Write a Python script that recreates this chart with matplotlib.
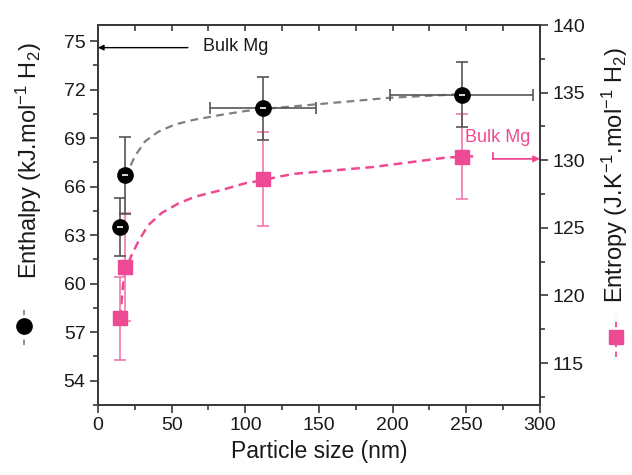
import matplotlib
matplotlib.use("Agg")
import matplotlib.pyplot as plt
from matplotlib.lines import Line2D
import numpy as np

plt.rcParams['font.family'] = ['Liberation Sans', 'DejaVu Sans']
plt.rcParams['mathtext.fontset'] = 'custom'
plt.rcParams['mathtext.rm'] = 'Liberation Sans'
plt.rcParams['mathtext.it'] = 'Liberation Sans:italic'
plt.rcParams['mathtext.default'] = 'regular'

# ---- data ----
size = [15, 18, 112, 247]
size_err = [2, 3, 36, 48.5]
enthalpy = [63.5, 66.7, 70.85, 71.7]
enthalpy_err = [1.8, 2.4, 1.95, 2.0]
entropy = [118.3, 122.1, 128.6, 130.25]
entropy_err = [3.1, 4.0, 3.5, 3.15]

fit_h_x = [18, 20.6, 25.1, 31.9, 40.9, 52.3, 65.8, 84, 100, 111, 124, 149, 198, 237, 250]
fit_h_y = [66.6, 67.0, 67.9, 68.8, 69.4, 69.85, 70.15, 70.45, 70.68, 70.8, 70.9, 71.1, 71.5, 71.68, 71.72]
fit_s_x = [15, 17, 19, 22.9, 27.4, 34.1, 43.2, 54.5, 65.8, 84, 100, 111, 123.5, 133.6, 186.8, 236.7, 257]
fit_s_y = [118.3, 120.8, 122.0, 123.0, 124.0, 125.2, 126.1, 126.8, 127.3, 127.8, 128.3, 128.5, 128.8, 129.0, 129.5, 130.2, 130.3]

bulk_enthalpy = 74.6
bulk_entropy = 130.1

x_ticks = [0, 50, 100, 150, 200, 250, 300]
h_ticks = [54, 57, 60, 63, 66, 69, 72, 75]
s_ticks = [115, 120, 125, 130, 135, 140]

PINK = '#EE4A93'
PINK_ERR = '#F07AAE'
GRAY = '#555555'
SPINE = '#3a3a3a'

fig = plt.figure(figsize=(6.32, 4.75), dpi=100)
ax = fig.add_axes([98/632, 70/475, 442/632, 380/475])
ax2 = ax.twinx()

# ---- entropy (right axis) ----
ax2.plot(fit_s_x, fit_s_y, color=PINK, lw=1.8, dashes=(3.5, 2.2), zorder=2)
ax2.errorbar(size, entropy, yerr=entropy_err, fmt='none', ecolor=PINK_ERR,
             elinewidth=1.2, capsize=4, capthick=1.2, zorder=3)
ax2.plot(size, entropy, ls='none', marker='s', ms=10, color=PINK, mec=PINK, zorder=4)

# ---- enthalpy (left axis) ----
ax.plot(fit_h_x, fit_h_y, color='#808080', lw=1.6, dashes=(3.5, 2.4), zorder=2)
ax.errorbar(size, enthalpy, yerr=enthalpy_err, xerr=size_err, fmt='none', ecolor=GRAY,
            elinewidth=1.2, capsize=4, capthick=1.2, zorder=3)
ax.plot(size, enthalpy, ls='none', marker='o', ms=11, color='black', zorder=4)
ax.plot(size, enthalpy, ls='none', marker='_', ms=5, mew=1.2, color='white', zorder=5)

ax.set_zorder(ax2.get_zorder() + 1)
ax.patch.set_visible(False)

# ---- axes limits / ticks ----
ax.set_xlim(0, 300)
ax.set_ylim(52.5, 76.0)
ax2.set_ylim(111.9, 140)

ax.set_xticks(x_ticks)
ax.set_xticks(np.arange(25, 300, 50), minor=True)
ax.set_yticks(h_ticks)
ax.set_yticks(np.arange(52.5, 76.1, 3), minor=True)
ax2.set_yticks(s_ticks)
ax2.set_yticks(np.arange(112.5, 140, 5), minor=True)

for a in (ax, ax2):
    for s in a.spines.values():
        s.set_color(SPINE)
        s.set_linewidth(1.3)

ax.tick_params(axis='both', which='major', direction='out', length=6, width=1.2,
               color=SPINE, labelsize=14, labelcolor='#1a1a1a', pad=3)
ax.tick_params(axis='both', which='minor', direction='out', length=3.5, width=1.2, color=SPINE)
ax.tick_params(axis='y', right=False, which='both')
ax2.tick_params(axis='y', which='major', direction='out', length=6, width=1.2,
                color=SPINE, labelsize=14, labelcolor='#1a1a1a', pad=3)
ax2.tick_params(axis='y', which='minor', direction='out', length=3.5, width=1.2, color=SPINE)

top = ax.secondary_xaxis('top')
top.set_xticks(np.arange(0, 301, 25))
top.tick_params(direction='in', length=4, width=1.2, color=SPINE, labeltop=False)
top.spines['top'].set_color(SPINE)
top.spines['top'].set_linewidth(1.3)

ax.set_xlabel('Particle size (nm)', fontsize=16.5, color='#1a1a1a', labelpad=4)

# ---- annotations ----
ax.annotate('', xy=(0, bulk_enthalpy), xytext=(61, bulk_enthalpy),
            arrowprops=dict(arrowstyle='-|>', color='black', lw=1.0,
                            mutation_scale=8, shrinkA=0, shrinkB=0))
ax.text(71, bulk_enthalpy + 0.05, 'Bulk Mg', fontsize=13, va='center', ha='left', color='#1a1a1a')

ax2.plot([268, 268], [130.55, bulk_entropy], color=PINK, lw=1.3, zorder=5)
ax2.annotate('', xy=(300, bulk_entropy), xytext=(268, bulk_entropy),
             arrowprops=dict(arrowstyle='-|>', color=PINK, lw=1.3,
                             mutation_scale=9, shrinkA=0, shrinkB=0))
ax2.text(249, 131.7, 'Bulk Mg', fontsize=13, va='center', ha='left', color=PINK)

# ---- Origin-style axis titles with symbols ----
fig.text(29/632, 1 - 161/475, 'Enthalpy (kJ.mol$^{-1}$ H$_2$)', rotation=90,
         fontsize=17, ha='center', va='center', color='#1a1a1a')
fig.text(615/632, 1 - 175/475, 'Entropy (J.K$^{-1}$.mol$^{-1}$ H$_2$)', rotation=90,
         fontsize=17, ha='center', va='center', color='#1a1a1a')

fig.add_artist(Line2D([24/632, 24/632], [1 - 345/475, 1 - 307/475], transform=fig.transFigure,
                      color='#888888', lw=1.3, dashes=(3, 2.5)))
fig.add_artist(Line2D([24/632], [1 - 326/475], transform=fig.transFigure, ls='none',
                      marker='o', ms=11, color='black'))
fig.add_artist(Line2D([616/632, 616/632], [1 - 357/475, 1 - 317/475], transform=fig.transFigure,
                      color=PINK, lw=1.3, dashes=(3, 2.5)))
fig.add_artist(Line2D([616/632], [1 - 337/475], transform=fig.transFigure, ls='none',
                      marker='s', ms=10, color=PINK))

fig.savefig('out.png', dpi=100)
